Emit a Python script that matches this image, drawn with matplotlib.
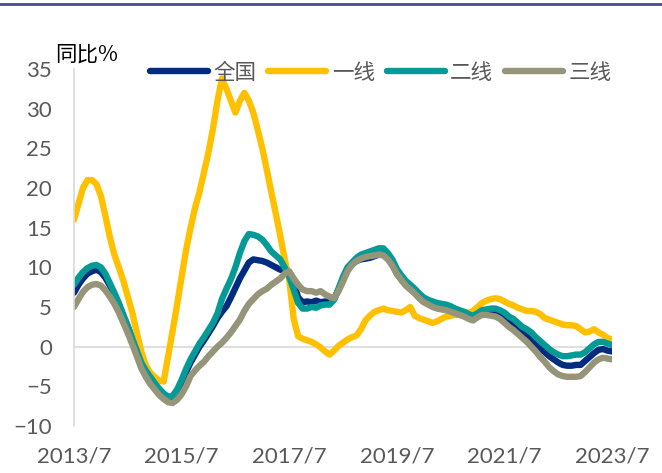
import numpy as np
import matplotlib
matplotlib.use('Agg')
import matplotlib.pyplot as plt

# monthly y/y %, 2013/7 .. 2023/7
national = [6.8, 7.8, 8.6, 9.2, 9.5, 9.7, 9.4, 8.7, 7.7, 6.6,
            5.3, 3.9, 2.5, 1.0, -0.6, -2.1, -3.2, -4.0, -4.8, -5.5,
            -6.1, -6.5, -6.5, -5.8, -4.6, -3.2, -2.0, -1.0, 0.0, 0.8,
            1.7, 2.6, 3.6, 4.4, 5.1, 6.2, 7.4, 8.6, 9.6, 10.6,
            11.0, 10.9, 10.8, 10.6, 10.3, 10.0, 9.7, 9.7, 9.4, 8.0,
            6.2, 5.6, 5.7, 5.6, 5.8, 5.6, 5.7, 5.6, 6.0, 7.2,
            8.6, 9.8, 10.4, 10.8, 11.0, 11.1, 11.2, 11.4, 11.6, 11.6,
            11.2, 10.4, 9.2, 8.5, 7.8, 7.3, 6.8, 6.2, 5.7, 5.4,
            5.1, 4.9, 4.8, 4.7, 4.6, 4.4, 4.2, 4.0, 3.7, 3.5,
            3.9, 4.3, 4.4, 4.4, 4.3, 4.1, 3.8, 3.3, 2.9, 2.4,
            1.9, 1.5, 1.0, 0.4, -0.2, -0.7, -1.2, -1.6, -2.0, -2.3,
            -2.4, -2.4, -2.3, -2.3, -1.8, -1.3, -0.8, -0.4, -0.3, -0.5, -0.6]

tier1 = [16.0, 18.0, 20.0, 21.0, 21.0, 20.5, 19.0, 16.5, 13.8, 11.6,
         10.0, 8.3, 6.3, 4.3, 1.8, -0.6, -2.3, -3.3, -3.8, -4.3,
         -4.4, -1.2, 2.0, 5.3, 8.8, 12.2, 15.0, 17.5, 19.5, 22.0,
         24.5, 27.5, 31.0, 33.8, 32.5, 31.0, 29.5, 31.0, 32.0, 31.0,
         29.5, 27.3, 25.0, 22.3, 19.5, 16.8, 14.0, 11.0, 8.5, 3.5,
         1.3, 1.0, 0.8, 0.6, 0.3, -0.1, -0.6, -1.0, -0.5, 0.1,
         0.5, 0.9, 1.2, 1.4, 2.2, 3.3, 3.9, 4.4, 4.6, 4.8,
         4.6, 4.5, 4.4, 4.3, 4.6, 5.0, 3.9, 3.6, 3.4, 3.2,
         3.0, 3.2, 3.5, 3.8, 3.9, 4.0, 4.1, 4.3, 4.3, 4.5,
         5.0, 5.5, 5.8, 6.0, 6.1, 6.0, 5.7, 5.4, 5.2, 4.9,
         4.7, 4.5, 4.5, 4.4, 4.1, 3.6, 3.4, 3.2, 3.0, 2.8,
         2.7, 2.7, 2.6, 2.2, 1.8, 1.9, 2.2, 1.8, 1.5, 1.1, 0.9]

tier2 = [7.8, 8.7, 9.4, 9.9, 10.2, 10.3, 10.0, 9.2, 8.0, 6.8,
         5.5, 4.0, 2.6, 1.0, -0.5, -2.0, -3.0, -3.8, -4.6, -5.3,
         -5.9, -6.3, -6.2, -5.4, -4.2, -2.8, -1.6, -0.6, 0.4, 1.2,
         2.1, 3.0, 4.2, 6.0, 7.3, 8.5, 10.0, 11.8, 13.3, 14.2,
         14.1, 13.9, 13.5, 12.8, 12.0, 11.5, 11.0, 10.0, 8.8, 7.2,
         5.5, 4.8, 4.8, 5.0, 4.9, 5.2, 5.3, 5.3, 5.9, 7.3,
         8.8, 10.0, 10.6, 11.2, 11.6, 11.8, 12.0, 12.2, 12.4, 12.4,
         11.8, 11.0, 9.8, 9.0, 8.3, 7.8, 7.3, 6.7, 6.2, 5.9,
         5.7, 5.5, 5.4, 5.3, 5.1, 4.8, 4.6, 4.4, 4.1, 3.9,
         4.2, 4.6, 4.7, 4.8, 4.8, 4.6, 4.3, 3.8, 3.5, 3.0,
         2.5, 2.2, 1.8, 1.2, 0.7, 0.2, -0.3, -0.7, -1.0, -1.2,
         -1.2, -1.1, -1.0, -1.0, -0.7, -0.2, 0.3, 0.6, 0.6, 0.4, 0.2]

tier3 = [5.0, 6.0, 6.9, 7.5, 7.8, 7.9, 7.7, 7.1, 6.3, 5.4,
         4.3, 3.0, 1.7, 0.3, -1.2, -2.7, -3.8, -4.7, -5.4, -6.1,
         -6.6, -7.0, -7.1, -6.7, -6.0, -5.0, -3.7, -3.0, -2.4, -1.9,
         -1.2, -0.6, 0.0, 0.5, 1.1, 1.8, 2.6, 3.4, 4.5, 5.4,
         6.0, 6.6, 7.0, 7.3, 7.8, 8.2, 8.6, 9.2, 9.5, 8.6,
         7.8, 7.2, 7.0, 7.0, 6.8, 7.0, 6.6, 6.3, 6.1, 7.0,
         8.2, 9.5, 10.3, 10.8, 11.1, 11.3, 11.4, 11.5, 11.6, 11.5,
         11.0, 10.2, 9.2, 8.4, 7.7, 7.2, 6.7, 6.1, 5.6, 5.3,
         5.0, 4.8, 4.7, 4.6, 4.4, 4.2, 4.0, 3.8, 3.5, 3.3,
         3.7, 4.0, 4.0, 3.9, 3.8, 3.5, 3.0, 2.5, 2.1, 1.6,
         1.1, 0.6, 0.0, -0.6, -1.3, -1.9, -2.6, -3.1, -3.5, -3.7,
         -3.8, -3.8, -3.8, -3.7, -3.2, -2.6, -2.0, -1.6, -1.4, -1.5, -1.6]

series_names = ['全国', '一线', '二线', '三线']
colors = ['#002C7F', '#FFC000', '#069A96', '#96957A']
xtick_labels = ['2013/7', '2015/7', '2017/7', '2019/7', '2021/7', '2023/7']
yticks = [-10, -5, 0, 5, 10, 15, 20, 25, 30, 35]

plt.rcParams['font.family'] = ['Lato', 'Noto Sans CJK SC', 'DejaVu Sans']

fig = plt.figure(figsize=(6.62, 4.73), dpi=100)
ax = fig.add_axes([74/662, 1-426/473, (612-74)/662, (426-69)/473])

months = np.arange(len(national))
for vals, name, c in zip([national, tier1, tier2, tier3], series_names, colors):
    ax.plot(months, vals, color=c, lw=4.6, label=name,
            solid_capstyle='round', solid_joinstyle='round')

ax.axhline(0, color='#D9D9D9', lw=1.2, zorder=0)
ax.set_xlim(0, len(national) - 1)
ax.set_ylim(-10, 35)
ax.set_xticks(np.arange(0, len(national), 24))
ax.set_xticklabels(xtick_labels)
ax.set_yticks(yticks)
ax.tick_params(axis='both', length=0, labelsize=16, colors='#595959')
ax.tick_params(axis='y', pad=16)
ax.tick_params(axis='x', pad=15)
for s in ['top', 'right', 'bottom']:
    ax.spines[s].set_visible(False)
ax.spines['left'].set_color('#D9D9D9')
ax.spines['left'].set_linewidth(1.2)

fig.text(55/662, 1-55/473, '同比%', fontsize=15.5, color='black',
         family=['Noto Sans CJK SC'], va='center', ha='left')

leg = fig.legend(loc='center left', bbox_to_anchor=(150/662, 1-73/473), ncol=4,
                 frameon=False, borderpad=0, borderaxespad=0,
                 handlelength=2.7, handletextpad=0.25, columnspacing=0.55,
                 prop={'family': 'Noto Sans CJK SC', 'size': 15.5})
for t in leg.get_texts():
    t.set_color('#595959')

# top rule line
fig.add_artist(plt.Line2D([0, 1], [1-4.5/473, 1-4.5/473], color='#4B4A8C', lw=2.0))

fig.savefig('out.png', dpi=100)
